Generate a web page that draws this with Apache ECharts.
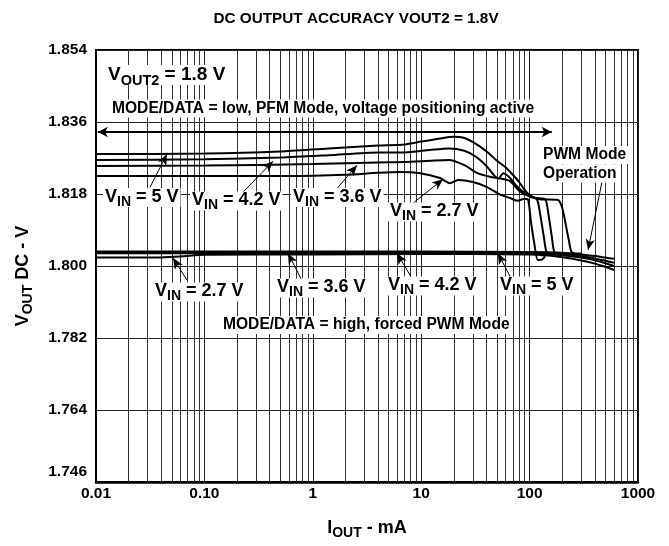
<!DOCTYPE html>
<html>
<head>
<meta charset="utf-8">
<script src="https://cdn.jsdelivr.net/npm/echarts@6/dist/echarts.min.js"></script>
<style>
  html, body { margin: 0; padding: 0; background: #fff; }
  #chart { width: 669px; height: 546px; }
</style>
</head>
<body>
<div id="chart"></div>
<script>
const FONT = '"Liberation Sans", Arial, sans-serif'

// axis ticks
const xTickLabels = ['0.01', '0.10', '1', '10', '100', '1000']
const yMin = 1.746
const yMax = 1.854
const yStep = 0.018
// log grid lines between the decades
const xMinorGrid = [0.02, 0.03, 0.04, 0.05, 0.06, 0.07, 0.08, 0.09,
  0.2, 0.3, 0.4, 0.5, 0.6, 0.7, 0.8, 0.9,
  2, 3, 4, 5, 6, 7, 8, 9,
  20, 30, 40, 50, 60, 70, 80, 90,
  200, 300, 400, 500, 600, 700, 800, 900]

// MODE/DATA = low (PFM, voltage positioning)  [Iout mA, Vout V]
const pfm5 = [[0.01, 1.8280], [0.1, 1.8281], [0.5, 1.8286], [1.4, 1.8294], [4, 1.8301], [7, 1.8304], [10, 1.8311], [15, 1.8319], [20, 1.8323], [25, 1.8320], [33, 1.8303], [42, 1.8282], [50, 1.8263], [60, 1.8247], [70, 1.8228], [80, 1.8210], [90, 1.8190], [101, 1.8176], [125, 1.8167], [183, 1.8165], [200, 1.8145], [215, 1.8105], [230, 1.8065], [246, 1.8034], [300, 1.8031]]
const pfm42 = [[0.01, 1.8265], [0.1, 1.8267], [0.5, 1.8271], [1.4, 1.8277], [4, 1.8284], [7, 1.8284], [12, 1.8290], [18, 1.8294], [25, 1.8288], [32, 1.8273], [40, 1.8250], [48, 1.8224], [52, 1.8219], [57, 1.8232], [65, 1.8222], [77, 1.8198], [95, 1.8178], [115, 1.8170], [139, 1.8167], [150, 1.8125], [160, 1.8075], [171, 1.8033], [200, 1.8031]]
const pfm36 = [[0.01, 1.8250], [0.1, 1.8251], [1, 1.8255], [4, 1.8259], [7, 1.8260], [12, 1.8263], [18, 1.8265], [25, 1.8252], [33, 1.8232], [43, 1.8223], [55, 1.8218], [66, 1.8212], [81, 1.8187], [101, 1.8173], [117, 1.8166], [125, 1.8130], [135, 1.8075], [145, 1.8033], [170, 1.8031]]
const pfm27 = [[0.01, 1.8225], [0.1, 1.8225], [0.6, 1.8225], [2, 1.8228], [4, 1.8233], [6.4, 1.8235], [9.8, 1.8232], [14.9, 1.8220], [18.4, 1.8207], [21.9, 1.8215], [30, 1.8210], [40, 1.8198], [53, 1.8179], [66, 1.8170], [77, 1.8163], [90, 1.8168], [97, 1.8165], [103, 1.8110], [110, 1.8060], [119, 1.8015], [130, 1.8016], [139, 1.8024]]

// MODE/DATA = high (forced PWM)
const pwm5 = [[0.01, 1.8036], [1, 1.8036], [10, 1.8036], [100, 1.8035], [200, 1.8033], [300, 1.8029], [400, 1.8025], [500, 1.8021], [600, 1.8018]]
const pwm42 = [[0.01, 1.8034], [10, 1.8034], [100, 1.8033], [200, 1.8030], [300, 1.8025], [400, 1.8019], [500, 1.8013], [600, 1.8008]]
const pwm36 = [[0.01, 1.8032], [10, 1.8032], [100, 1.8031], [200, 1.8027], [300, 1.8021], [400, 1.8014], [500, 1.8007], [600, 1.8000]]
const pwm27 = [[0.01, 1.8021], [0.03, 1.8021], [0.06, 1.8024], [0.1, 1.8028], [1, 1.8029], [10, 1.8030], [100, 1.8029], [150, 1.8026], [200, 1.8022], [300, 1.8014], [400, 1.8006], [500, 1.7998], [600, 1.7990]]

// annotation arrows [from, to] in data units
const pointerArrows = [
  [[0.0315, 1.8197], [0.0452, 1.8280]],
  [[0.222, 1.8182], [0.43, 1.8262]],
  [[1.535, 1.8182], [2.56, 1.8252]],
  [[8.4, 1.8157], [15.9, 1.8217]],
  [[0.069, 1.7965], [0.0513, 1.8020]],
  [[0.813, 1.7958], [0.59, 1.8032]],
  [[8.4, 1.7965], [5.98, 1.8032]],
  [[68.8, 1.7965], [51, 1.8032]],
  [[475, 1.8222], [346, 1.8040]]
]
const pfmRange = [[0.0104, 1.8335], [160, 1.8335]]

const myChart = echarts.init(document.getElementById('chart'))

function curve (name, data) {
  return {
    name,
    type: 'line',
    data,
    symbol: 'none',
    smooth: 0.25,
    animation: false,
    silent: true,
    z: 5,
    lineStyle: { color: '#000', width: 2 }
  }
}

const sub = { fontSize: 14, fontWeight: 'bold', fontFamily: FONT, fill: '#000', lineHeight: 14, padding: [7, 0, 0, 0], verticalAlign: 'top' }
const main = { fontSize: 18, fontWeight: 'bold', fontFamily: FONT, fill: '#000', lineHeight: 19, verticalAlign: 'top' }

function vinLabel (x, y, v) {
  return {
    type: 'text',
    x,
    y,
    z: 100,
    style: {
      text: `{m|V}{s|IN}{m| = ${v} V}`,
      rich: { m: main, s: sub },
      align: 'left',
      verticalAlign: 'top',
      backgroundColor: '#fff',
      padding: [0, 2, 0, 2]
    }
  }
}

function plainLabel (x, y, text) {
  return {
    type: 'text',
    x,
    y,
    z: 100,
    style: {
      text,
      fontSize: 15.6,
      fontWeight: 'bold',
      fontFamily: FONT,
      fill: '#000',
      align: 'left',
      verticalAlign: 'middle',
      backgroundColor: '#fff',
      padding: [1, 2, 1, 2]
    }
  }
}

const tickFont = { color: '#000', fontSize: 15.5, fontWeight: 'bold', fontFamily: FONT }

myChart.setOption({
  animation: false,
  grid: {
    left: 96,
    right: 31,
    top: 50,
    bottom: 64,
    show: true,
    borderColor: '#000',
    borderWidth: 2
  },
  xAxis: {
    type: 'log',
    logBase: 10,
    min: 0.01,
    max: 1000,
    splitNumber: 5,
    axisLine: { lineStyle: { color: '#000', width: 2.5 } },
    axisTick: { show: false },
    axisLabel: Object.assign({
      margin: 4,
      formatter: v => xTickLabels[Math.round(Math.log10(v)) + 2]
    }, tickFont),
    splitLine: { show: true, lineStyle: { color: '#222', width: 1 } }
  },
  yAxis: {
    type: 'value',
    min: yMin,
    max: yMax,
    interval: yStep,
    axisLine: { show: true, lineStyle: { color: '#000', width: 2 } },
    axisTick: { show: false },
    axisLabel: Object.assign({
      margin: 9,
      formatter: v => Math.abs(v - yMin) < 1e-6 ? `{lo|${v.toFixed(3)}}` : v.toFixed(3),
      rich: { lo: Object.assign({ padding: [0, 0, 20, 0] }, tickFont) }
    }, tickFont),
    splitLine: { show: true, lineStyle: { color: '#222', width: 1 } }
  },
  series: [
    {
      name: 'grid',
      type: 'line',
      data: [],
      silent: true,
      z: 1,
      markLine: {
        silent: true,
        animation: false,
        symbol: ['none', 'none'],
        label: { show: false },
        lineStyle: { color: '#333', width: 1, type: 'solid' },
        data: xMinorGrid.map(v => ({ xAxis: v }))
      }
    },
    curve('PWM 5V', pwm5),
    curve('PWM 4.2V', pwm42),
    curve('PWM 3.6V', pwm36),
    curve('PWM 2.7V', pwm27),
    curve('PFM 5V', pfm5),
    curve('PFM 4.2V', pfm42),
    curve('PFM 3.6V', pfm36),
    curve('PFM 2.7V', pfm27),
    {
      name: 'arrows',
      type: 'line',
      data: [],
      silent: true,
      z: 6,
      markLine: {
        silent: true,
        animation: false,
        symbol: ['none', 'arrow'],
        symbolSize: [7, 11],
        label: { show: false },
        lineStyle: { color: '#000', width: 1, type: 'solid' },
        data: pointerArrows.map(a => [{ coord: a[0] }, { coord: a[1] }]).concat([[
          { coord: pfmRange[0], symbol: 'arrow', symbolSize: [8, 10], lineStyle: { width: 2 } },
          { coord: pfmRange[1], symbol: 'arrow', symbolSize: [8, 10] }
        ]])
      }
    }
  ],
  graphic: [
    {
      type: 'text',
      x: 356,
      y: 19,
      style: { text: 'DC OUTPUT ACCURACY VOUT2 = 1.8V', fontSize: 15.3, fontWeight: 'bold', fontFamily: FONT, fill: '#000', align: 'center', verticalAlign: 'middle' }
    },
    {
      type: 'text',
      x: 367,
      y: 519,
      style: {
        text: '{m|I}{s|OUT}{m| - mA}',
        rich: { m: main, s: sub },
        align: 'center',
        verticalAlign: 'top'
      }
    },
    {
      type: 'text',
      x: 14,
      y: 276,
      rotation: Math.PI / 2,
      style: {
        text: '{m|V}{s|OUT}{m| DC - V}',
        rich: { m: main, s: sub },
        align: 'center',
        verticalAlign: 'top'
      }
    },
    {
      type: 'text',
      x: 106,
      y: 65,
      z: 100,
      style: {
        text: '{m|V}{s|OUT2}{m| = 1.8 V}',
        rich: {
          m: Object.assign({}, main, { fontSize: 19, lineHeight: 20 }),
          s: Object.assign({}, sub, { fontSize: 14.5, padding: [8, 0, 0, 0] })
        },
        align: 'left',
        verticalAlign: 'top',
        backgroundColor: '#fff',
        padding: [0, 2, 0, 2]
      }
    },
    plainLabel(110, 108.5, 'MODE/DATA = low, PFM Mode, voltage positioning active'),
    plainLabel(221, 325, 'MODE/DATA = high, forced PWM Mode'),
    plainLabel(541, 155, 'PWM Mode'),
    plainLabel(541, 173.5, 'Operation'),
    vinLabel(103, 188, '5'),
    vinLabel(190, 191.5, '4.2'),
    vinLabel(291, 188, '3.6'),
    vinLabel(388, 202.5, '2.7'),
    vinLabel(153, 282.5, '2.7'),
    vinLabel(275, 278.5, '3.6'),
    vinLabel(386, 276.5, '4.2'),
    vinLabel(498, 276.5, '5')
  ]
})
</script>
</body>
</html>
